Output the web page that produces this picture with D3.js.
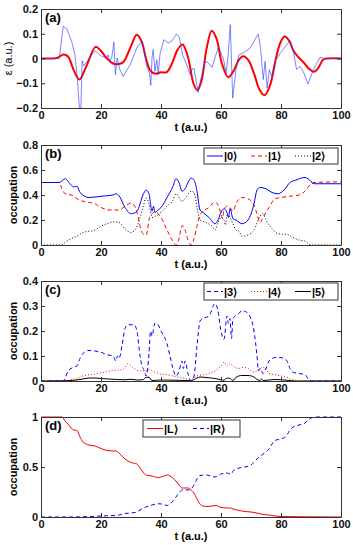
<!DOCTYPE html>
<html>
<head>
<meta charset="utf-8">
<script src="https://cdn.jsdelivr.net/npm/d3@7"></script>
<style>
  body { margin: 0; background: #fff; }
  text { font-family: "Liberation Sans", Arial, sans-serif; }
</style>
</head>
<body>
<div id="chart"></div>
<script>
// DATA (t, value) pairs
const tTicks = [0, 20, 40, 60, 80, 100];

// (a) field
const fieldRed = [[0,0],[4,0],[5.5,0.003],[7.5,0.016],[9,0.008],[11,-0.05],[12.8,-0.085],[15,-0.035],[18.2,0.047],[20,0.03],[22,0.0],[24,-0.02],[26,-0.022],[27.5,-0.014],[30,0.05],[31.9,0.096],[33.5,0.07],[35,0.0],[36.5,-0.05],[38,-0.061],[40,-0.056],[41.9,-0.055],[43.5,-0.025],[45.5,0.035],[47.2,0.057],[49,0.005],[50.8,-0.1],[52.1,-0.128],[53.5,-0.09],[55.2,0.04],[56.9,0.112],[58.5,0.08],[60.3,-0.02],[62.4,-0.076],[64.2,-0.05],[66,-0.005],[67.4,0.009],[69,-0.005],[71,-0.06],[72.8,-0.125],[74.5,-0.148],[76.3,-0.11],[78.5,0.01],[80,0.07],[81.3,0.089],[82.8,0.07],[84.2,0.03],[85.8,0.005],[87.4,-0.014],[89.2,-0.04],[91,-0.054],[92.6,-0.035],[94,-0.005],[95.5,0],[100,0]];
const fieldBlue = [[0,0],[6.1,0],[6.8,0.07],[7.4,0.13],[8.6,0.12],[10.2,0.07],[11.3,0.015],[12.1,-0.08],[12.8,-0.2],[13.3,-0.2],[13.7,-0.009],[14.3,-0.03],[15,-0.018],[16.1,0.0],[18,0.032],[20.2,0.009],[21.9,0.002],[22.4,0.015],[23,-0.012],[23.6,0.005],[24.3,0.067],[24.8,-0.065],[25.4,0.002],[26.3,-0.045],[27.4,-0.072],[29.7,-0.025],[31.9,0.042],[33.6,0.07],[34.3,0.043],[35.2,-0.03],[36.1,-0.058],[36.6,-0.108],[37,0.002],[37.4,0.036],[38,-0.052],[38.6,-0.005],[39.1,-0.066],[39.7,0.022],[41,0.076],[42.4,0.063],[43.6,0.07],[45.2,0.099],[46.1,0.085],[47.2,0.015],[48.3,-0.018],[49.7,-0.065],[50.4,-0.042],[51,-0.04],[52.4,-0.137],[53.5,-0.07],[54.7,-0.01],[55.8,-0.018],[57,-0.036],[59.1,0.046],[60.8,0.0],[61.7,-0.06],[62.4,0.015],[63.1,0.137],[63.9,-0.16],[65,-0.045],[65.9,0.015],[67.3,0.022],[69.7,0.042],[71.3,0.076],[72.4,0.099],[73.2,0.04],[74.1,-0.085],[74.7,-0.012],[75.4,-0.119],[76.1,-0.045],[76.9,-0.072],[78,-0.011],[80.2,0.029],[83,0.072],[84.1,0.03],[85.2,-0.045],[86.3,-0.032],[87.4,-0.052],[89,-0.103],[90.8,-0.045],[93,0.005],[94.7,0],[100,0]];

// (b) occupations
const occ0 = [[0,0.5],[6,0.5],[8,0.53],[10,0.48],[11,0.465],[12,0.47],[13,0.42],[16,0.38],[20,0.39],[24,0.4],[25,0.41],[26,0.395],[28,0.3],[30,0.25],[32,0.27],[34,0.4],[35,0.44],[36,0.41],[36.5,0.33],[37,0.27],[37.5,0.31],[38,0.26],[39,0.28],[40,0.3],[42,0.38],[44,0.47],[45,0.53],[46,0.5],[47,0.43],[48,0.45],[49,0.5],[50,0.535],[51,0.52],[52,0.43],[53,0.28],[54,0.26],[56,0.22],[58,0.17],[59,0.2],[60,0.26],[61,0.29],[62,0.26],[62.5,0.22],[63,0.29],[64,0.21],[65,0.2],[67,0.17],[69,0.2],[71,0.33],[72,0.44],[73,0.46],[75,0.45],[77,0.42],[79,0.41],[81,0.44],[83,0.5],[85,0.52],[88,0.54],[89,0.53],[91,0.49],[100,0.49]];
const occ1 = [[0,0.5],[6,0.5],[7,0.45],[8,0.41],[10,0.4],[11,0.39],[12,0.37],[14,0.35],[16,0.34],[18,0.33],[20,0.3],[23,0.28],[26,0.28],[28,0.31],[30,0.335],[31,0.32],[32,0.26],[33,0.15],[34,0.09],[35,0.08],[35.5,0.12],[36,0.2],[37,0.25],[38,0.265],[40,0.22],[42,0.12],[44,0.03],[45,0.0],[46,0.05],[47,0.155],[48,0.12],[49,0.04],[50,0.0],[51,0.05],[52,0.15],[53,0.24],[54,0.27],[56,0.3],[58,0.345],[59,0.32],[60,0.25],[60.5,0.21],[61,0.28],[62,0.31],[63,0.3],[64,0.27],[65,0.33],[67,0.38],[69,0.37],[71,0.32],[72,0.25],[73,0.18],[74,0.22],[76,0.3],[78,0.37],[80,0.38],[83,0.39],[86,0.4],[88,0.43],[90,0.49],[91,0.5],[100,0.505]];
const occ2 = [[0,0],[7,0],[8,0.02],[10,0.05],[12,0.07],[14,0.1],[16,0.11],[18,0.12],[20,0.15],[22,0.17],[24,0.185],[26,0.18],[28,0.13],[30,0.1],[32,0.15],[34,0.3],[35,0.375],[36,0.33],[37,0.22],[38,0.23],[40,0.26],[42,0.31],[44,0.36],[45,0.41],[47,0.35],[48,0.37],[50,0.43],[51,0.42],[52,0.3],[53,0.2],[55,0.18],[57,0.15],[58,0.12],[59,0.18],[60,0.22],[61,0.2],[61.5,0.16],[62,0.24],[63,0.22],[64,0.17],[65,0.12],[66,0.11],[67,0.07],[69,0.08],[71,0.12],[73,0.23],[74,0.25],[75,0.2],[77,0.13],[79,0.09],[82,0.085],[84,0.06],[86,0.04],[88,0.03],[90,0.0],[100,0]];

// (c) occupations
const occ3 = [[0,0],[7.5,0],[8,0.01],[9,0.04],[10,0.05],[11,0.055],[12,0.06],[13,0.09],[14,0.11],[16,0.122],[18,0.12],[20,0.115],[22,0.105],[24,0.1],[25,0.08],[25.5,0.1],[26,0.09],[27,0.14],[28,0.21],[29,0.225],[31,0.225],[32,0.2],[33,0.1],[34,0.05],[34.5,0.04],[35,0.02],[36,0.11],[36.5,0.2],[37,0.18],[38,0.232],[39,0.225],[40,0.2],[42,0.15],[43,0.1],[44,0.05],[45,0.02],[46,0.04],[47,0.08],[47.5,0.05],[48,0.08],[49,0.03],[50,0.0],[51,0.02],[52,0.14],[53,0.24],[54,0.25],[56,0.26],[58,0.31],[59,0.28],[60,0.2],[61,0.167],[62,0.26],[62.5,0.23],[63,0.25],[63.5,0.17],[64,0.25],[66,0.27],[67,0.282],[69,0.27],[71,0.2],[72,0.1],[72.5,0.04],[73,0.05],[74,0.03],[75,0.05],[76,0.08],[77,0.09],[79,0.095],[81,0.09],[82,0.08],[83,0.05],[84,0.035],[86,0.03],[88,0.025],[89,0.01],[90,0.0],[100,0]];
const occ4 = [[0,0],[9,0],[10,0.005],[12,0.01],[14,0.02],[16,0.025],[18,0.028],[20,0.032],[22,0.038],[24,0.042],[27,0.045],[28,0.055],[29,0.069],[30,0.06],[31,0.05],[33,0.04],[35,0.04],[36,0.045],[38,0.035],[40,0.028],[42,0.025],[44,0.02],[46,0.015],[48,0.01],[50,0.005],[52,0.02],[54,0.025],[56,0.03],[58,0.04],[60,0.06],[61,0.075],[62,0.06],[63,0.07],[64,0.06],[66,0.05],[67,0.055],[69,0.05],[70,0.04],[71,0.035],[73,0.05],[74,0.055],[75,0.05],[76,0.03],[78,0.025],[80,0.02],[82,0.015],[84,0.005],[86,0],[100,0]];
const occ5 = [[0,0],[10,0.002],[14,0.008],[16,0.012],[18,0.012],[20,0.01],[24,0.007],[28,0.005],[30,0.007],[32,0.004],[34,0.005],[35,0.015],[36,0.015],[37,0.002],[40,0.004],[45,0.003],[48,0.002],[50,0.001],[52,0.012],[53,0.016],[55,0.014],[58,0.01],[60,0.005],[61,0.003],[62,0.012],[63,0.01],[64,0.002],[65,0.015],[67,0.022],[69,0.022],[71,0.016],[72,0.006],[73,0.002],[73.5,0.008],[74,0.002],[76,0.004],[78,0.006],[80,0.005],[82,0.003],[85,0],[100,0]];

// (d) left / right
const occL = [[0,1],[7,1],[8,0.96],[9,0.93],[10,0.89],[11,0.87],[12,0.865],[13,0.8],[14,0.75],[16,0.72],[18,0.71],[20,0.685],[22,0.665],[24,0.66],[25,0.66],[26,0.64],[28,0.58],[30,0.545],[32,0.53],[33,0.49],[34,0.45],[35,0.42],[37,0.41],[39,0.395],[41,0.41],[42,0.42],[43,0.41],[45,0.36],[46,0.32],[47,0.29],[49,0.29],[50,0.27],[51,0.24],[52,0.18],[53,0.13],[54,0.11],[56,0.105],[58,0.115],[59,0.11],[60,0.095],[62,0.09],[63,0.09],[64,0.08],[66,0.065],[68,0.055],[70,0.05],[72,0.04],[74,0.025],[76,0.02],[78,0.01],[80,0.005],[85,0.003],[90,0.002],[100,0]];
const occR = [[0,0],[10,0],[15,0.003],[20,0.01],[24,0.015],[26,0.02],[28,0.035],[30,0.04],[32,0.05],[33,0.07],[35,0.1],[37,0.12],[39,0.133],[41,0.125],[42,0.115],[43,0.13],[45,0.2],[46,0.24],[47,0.27],[49,0.27],[50,0.28],[51,0.32],[52,0.38],[53,0.415],[55,0.42],[56,0.415],[58,0.4],[59,0.41],[60,0.43],[62,0.44],[63,0.43],[63.5,0.43],[64,0.46],[66,0.49],[68,0.5],[70,0.52],[72,0.58],[74,0.63],[76,0.68],[77,0.73],[78,0.767],[80,0.78],[82,0.82],[83,0.87],[84,0.9],[86,0.92],[88,0.94],[89,0.97],[90,0.99],[92,1],[100,1]];

const W = 353, H = 545;
const X0 = 41, X1 = 341;

const svg = d3.select("#chart").append("svg")
  .attr("width", W).attr("height", H);

const x = d3.scaleLinear().domain([0, 100]).range([X0, X1]);

function fmt(v) {
  return v < 0 ? "\u2212" + Math.abs(v) : String(v);
}

function panel(opts) {
  const y = d3.scaleLinear().domain(opts.yDomain).range([opts.bottom, opts.top]);
  const g = svg.append("g");
  const id = "clip" + opts.label;
  svg.append("clipPath").attr("id", id).append("rect")
    .attr("x", X0).attr("y", opts.top - 1).attr("width", X1 - X0).attr("height", opts.bottom - opts.top + 2);

  const lines = g.append("g").attr("clip-path", `url(#${id})`);
  opts.series.forEach(s => {
    const line = d3.line().x(d => x(d[0])).y(d => y(d[1])).curve(s.curve || d3.curveMonotoneX);
    lines.append("path").datum(s.data)
      .attr("fill", "none")
      .attr("stroke", s.color)
      .attr("stroke-width", s.width || 1)
      .attr("stroke-opacity", s.opacity || 1)
      .attr("stroke-dasharray", s.dash || null)
      .attr("d", line);
  });

  // axes, ticks inside on all sides
  const styleAxis = sel => {
    sel.select(".domain").attr("stroke", "#333");
    sel.selectAll(".tick line").attr("stroke", "#333");
    sel.selectAll("text").attr("font-size", 11).attr("font-weight", "bold").attr("fill", "#111")
      .attr("font-family", "'Liberation Sans', Arial, sans-serif");
  };
  g.append("g").attr("transform", `translate(0,${opts.bottom})`)
    .call(d3.axisBottom(x).tickValues(tTicks).tickSizeInner(-4).tickSizeOuter(0).tickPadding(3))
    .call(styleAxis);
  g.append("g").attr("transform", `translate(0,${opts.top})`)
    .call(d3.axisTop(x).tickValues(tTicks).tickSizeInner(-4).tickSizeOuter(0).tickFormat(""))
    .call(styleAxis);
  g.append("g").attr("transform", `translate(${X0},0)`)
    .call(d3.axisLeft(y).tickValues(opts.yTicks).tickFormat(fmt).tickSizeInner(-4).tickSizeOuter(0).tickPadding(3))
    .call(styleAxis);
  g.append("g").attr("transform", `translate(${X1},0)`)
    .call(d3.axisRight(y).tickValues(opts.yTicks).tickSizeInner(-4).tickSizeOuter(0).tickFormat(""))
    .call(styleAxis);

  g.append("text").attr("x", 45).attr("y", opts.top + 13)
    .attr("font-size", 13).attr("font-weight", "bold").text(`(${opts.label})`);

  g.append("text").attr("x", (X0 + X1) / 2).attr("y", opts.bottom + 23)
    .attr("text-anchor", "middle").attr("font-size", 11).attr("font-weight", "bold")
    .text("t (a.u.)");

  g.append("text")
    .attr("transform", `translate(${opts.yLabelX},${(opts.top + opts.bottom) / 2}) rotate(-90)`)
    .attr("text-anchor", "middle").attr("font-size", 11).attr("font-weight", opts.yLabelBold ? "bold" : "normal")
    .text(opts.yLabel);

  if (opts.legend) {
    const L = opts.legend;
    g.append("rect").attr("x", L.x).attr("y", L.y).attr("width", L.w).attr("height", L.h)
      .attr("fill", "#fff").attr("stroke", "#333").attr("stroke-width", 1);
    L.items.forEach(it => {
      const cy = L.y + L.h / 2;
      g.append("line").attr("x1", it.x).attr("x2", it.x + 16).attr("y1", cy).attr("y2", cy)
        .attr("stroke", it.color).attr("stroke-width", 1).attr("stroke-dasharray", it.dash || null);
      g.append("text").attr("x", it.x + 17).attr("y", cy + 4)
        .attr("font-size", 11).attr("font-weight", "bold")
        .attr("font-family", L.serif ? "'Liberation Serif', 'DejaVu Serif', serif" : "'Liberation Sans', Arial, sans-serif")
        .text(it.text);
    });
  }
}

panel({
  label: "a", top: 9, bottom: 108, yDomain: [-0.2, 0.2], yTicks: [-0.2, -0.1, 0, 0.1, 0.2],
  yLabel: "\u03b5 (a.u.)", yLabelX: 12, yLabelBold: false,
  series: [
    { data: fieldRed, color: "#ff0000", width: 2, curve: d3.curveCatmullRom },
    { data: fieldBlue, color: "#2a3cff", width: 0.9, opacity: 0.7, curve: d3.curveLinear }
  ]
});

panel({
  label: "b", top: 145, bottom: 245, yDomain: [0, 0.8], yTicks: [0, 0.2, 0.4, 0.6, 0.8],
  yLabel: "occupation", yLabelX: 17, yLabelBold: true,
  series: [
    { data: occ2, color: "#000", dash: "1,2" },
    { data: occ1, color: "#ff0000", dash: "4,3" },
    { data: occ0, color: "#0000ff" }
  ],
  legend: { x: 204, y: 148, w: 134, h: 16, serif: true, items: [
    { x: 207, color: "#0000ff", text: "|0\u27e9" },
    { x: 251, color: "#ff0000", dash: "4,3", text: "|1\u27e9" },
    { x: 295, color: "#000", dash: "1,2", text: "|2\u27e9" }
  ] }
});

panel({
  label: "c", top: 281, bottom: 381, yDomain: [0, 0.4], yTicks: [0, 0.1, 0.2, 0.3, 0.4],
  yLabel: "occupation", yLabelX: 17, yLabelBold: true,
  series: [
    { data: occ5, color: "#000" },
    { data: occ4, color: "#ff0000", dash: "1,2" },
    { data: occ3, color: "#0000ff", dash: "4,3" }
  ],
  legend: { x: 204, y: 283, w: 134, h: 17, serif: true, items: [
    { x: 207, color: "#0000ff", dash: "4,3", text: "|3\u27e9" },
    { x: 251, color: "#ff0000", dash: "1,2", text: "|4\u27e9" },
    { x: 295, color: "#000", text: "|5\u27e9" }
  ] }
});

panel({
  label: "d", top: 417, bottom: 517, yDomain: [0, 1], yTicks: [0, 0.5, 1],
  yLabel: "occupation", yLabelX: 17, yLabelBold: true,
  series: [
    { data: occR, color: "#0000ff", dash: "4,3" },
    { data: occL, color: "#ff0000" }
  ],
  legend: { x: 143, y: 420, w: 97, h: 17, serif: false, items: [
    { x: 147, color: "#ff0000", text: "|L\u27e9" },
    { x: 193, color: "#0000ff", dash: "4,3", text: "|R\u27e9" }
  ] }
});
</script>
</body>
</html>
